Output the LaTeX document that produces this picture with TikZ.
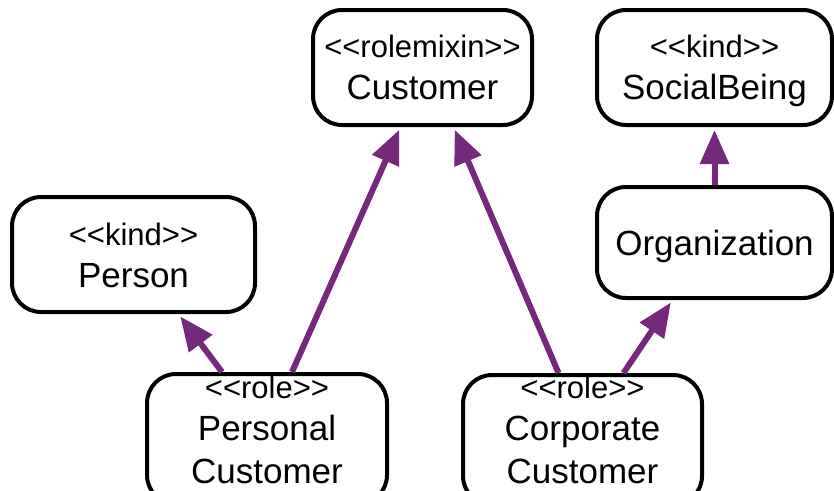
\documentclass[tikz,border=0pt]{standalone}
\usepackage{fontspec}
\setmainfont{Liberation Sans}
\usetikzlibrary{arrows.meta}
\definecolor{genpurple}{RGB}{118,40,125}
\tikzset{
  classbox/.style={draw=black, line width=4pt, fill=white, rounded corners=29pt, inner sep=0pt},
  stereo/.style={anchor=base, inner sep=0pt, font=\fontsize{31}{36}\selectfont},
  cname/.style={anchor=base, inner sep=0pt, font=\fontsize{35}{40}\selectfont},
  gen/.style={draw=genpurple, line width=6pt, -{Triangle[length=34pt,width=28pt]}, shorten >=3pt}
}
\begin{document}
\begin{tikzpicture}[x=1pt,y=-1pt]
\useasboundingbox (0,0) rectangle (834,490);
\clip (0,0) rectangle (834,490);

% class boxes
\node[classbox, minimum width=219pt, minimum height=115pt] (cust) at (422.5,67.5) {};
\node[classbox, minimum width=235pt, minimum height=115pt] (social) at (714.5,67.5) {};
\node[classbox, minimum width=235pt, minimum height=111pt] (org) at (714.5,242.5) {};
\node[classbox, minimum width=243pt, minimum height=115pt] (person) at (133.5,254.5) {};
\node[classbox, minimum width=240pt, minimum height=130pt] (pc) at (267,439) {};
\node[classbox, minimum width=239pt, minimum height=130pt] (cc) at (582.5,440) {};

% labels (empty groups keep << and >> from becoming guillemets)
\node[stereo] (custS) at ([yshift=10.5pt]cust.center) {<{}<rolemixin>{}>};
\node[cname]  (custN) at ([yshift=-31.5pt]cust.center) {Customer};
\node[stereo] (socS) at ([yshift=10.5pt]social.center) {<{}<kind>{}>};
\node[cname]  (socN) at ([yshift=-31.5pt]social.center) {SocialBeing};
\node[cname]  (orgN) at ([yshift=-12.5pt]org.center) {Organization};
\node[stereo] (perS) at ([yshift=9.5pt]person.center) {<{}<kind>{}>};
\node[cname]  (perN) at ([yshift=-32.5pt]person.center) {Person};
\node[stereo] (pcS)  at ([yshift=-26pt]pc.north) {<{}<role>{}>};
\node[cname]  (pcN1) at ([yshift=-68pt]pc.north) {Personal};
\node[cname]  (pcN2) at ([yshift=-111pt]pc.north) {Customer};
\node[stereo] (ccS)  at ([yshift=-25pt]cc.north) {<{}<role>{}>};
\node[cname]  (ccN1) at ([yshift=-67pt]cc.north) {Corporate};
\node[cname]  (ccN2) at ([yshift=-110pt]cc.north) {Customer};

% generalizations
\draw[gen] ([xshift=-45pt]pc.north) -- ([xshift=45pt]person.south);
\draw[gen] ([xshift=25pt]pc.north) -- ([xshift=-22pt]cust.south);
\draw[gen] ([xshift=-24pt]cc.north) -- ([xshift=31pt]cust.south);
\draw[gen] ([xshift=41pt]cc.north) -- ([xshift=-42pt]org.south);
\draw[gen] (org.north) -- (social.south);
\end{tikzpicture}
\end{document}
